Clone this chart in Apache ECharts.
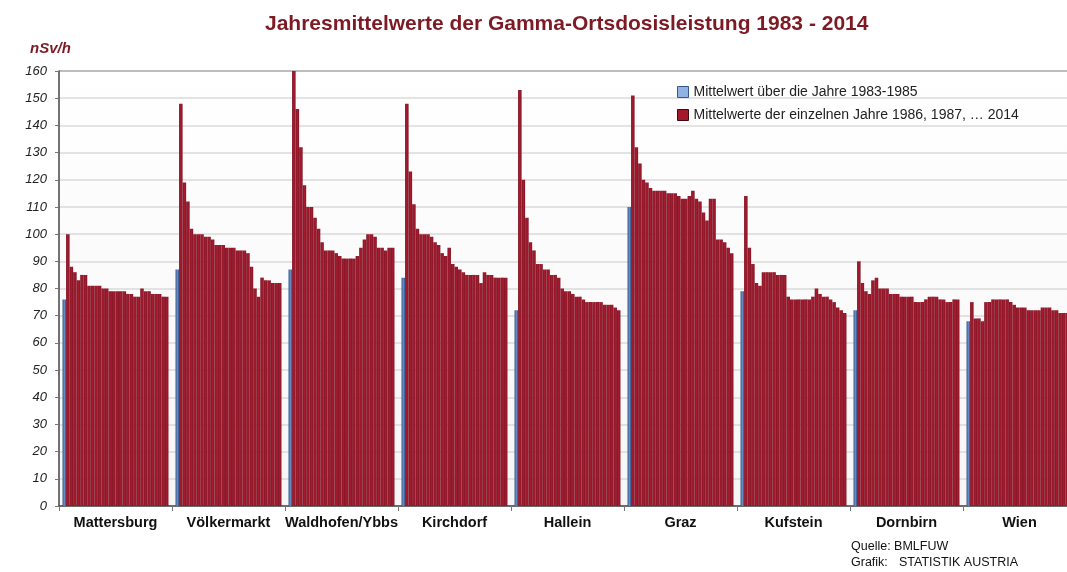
<!DOCTYPE html>
<html>
<head>
<meta charset="utf-8">
<script src="https://cdn.jsdelivr.net/npm/echarts@6/dist/echarts.min.js"></script>
<style>
  html, body { margin: 0; padding: 0; background: #fff; }
  #chart { width: 1067px; height: 572px; }
</style>
</head>
<body>
<div id="chart"></div>
<script>
// Stationen
var stations = ['Mattersburg', 'Völkermarkt', 'Waldhofen/Ybbs', 'Kirchdorf', 'Hallein', 'Graz', 'Kufstein', 'Dornbirn', 'Wien'];

// Mittelwert 1983-1985 (blau)
var base = [76, 87, 87, 84, 72, 110, 79, 72, 68];

// Jahresmittelwerte 1986 ... 2014 (rot)
var mattersburg = [100, 88, 86, 83, 85, 85, 81, 81, 81, 81, 80, 80, 79, 79, 79, 79, 79, 78, 78, 77, 77, 80, 79, 79, 78, 78, 78, 77, 77];
var voelkermarkt = [148, 119, 112, 102, 100, 100, 100, 99, 99, 98, 96, 96, 96, 95, 95, 95, 94, 94, 94, 93, 88, 80, 77, 84, 83, 83, 82, 82, 82];
var waldhofen = [160, 146, 132, 118, 110, 110, 106, 102, 97, 94, 94, 94, 93, 92, 91, 91, 91, 91, 92, 95, 98, 100, 100, 99, 95, 95, 94, 95, 95];
var kirchdorf = [148, 123, 111, 102, 100, 100, 100, 99, 97, 96, 93, 92, 95, 89, 88, 87, 86, 85, 85, 85, 85, 82, 86, 85, 85, 84, 84, 84, 84];
var hallein = [153, 120, 106, 97, 94, 89, 89, 87, 87, 85, 85, 84, 80, 79, 79, 78, 77, 77, 76, 75, 75, 75, 75, 75, 74, 74, 74, 73, 72];
var graz = [151, 132, 126, 120, 119, 117, 116, 116, 116, 116, 115, 115, 115, 114, 113, 113, 114, 116, 113, 112, 108, 105, 113, 113, 98, 98, 97, 95, 93];
var kufstein = [114, 95, 89, 82, 81, 86, 86, 86, 86, 85, 85, 85, 77, 76, 76, 76, 76, 76, 76, 77, 80, 78, 77, 77, 76, 75, 73, 72, 71];
var dornbirn = [90, 82, 79, 78, 83, 84, 80, 80, 80, 78, 78, 78, 77, 77, 77, 77, 75, 75, 75, 76, 77, 77, 77, 76, 76, 75, 75, 76, 76];
var wien = [75, 69, 69, 68, 75, 75, 76, 76, 76, 76, 76, 75, 74, 73, 73, 73, 72, 72, 72, 72, 73, 73, 73, 72, 72, 71, 71, 71, 70];

var yearly = [mattersburg, voelkermarkt, waldhofen, kirchdorf, hallein, graz, kufstein, dornbirn, wien];
var firstYear = 1986;

var yTicks = [0, 10, 20, 30, 40, 50, 60, 70, 80, 90, 100, 110, 120, 130, 140, 150, 160];

// je Station: Luecke, Blau, 29 Jahre, Luecke
var slots = [], blueData = [], redData = [];
for (var i = 0; i < stations.length; i++) {
    slots.push(stations[i] + ' -');
    blueData.push('-'); redData.push('-');
    slots.push(stations[i] + ' 1983-1985');
    blueData.push(base[i]); redData.push('-');
    for (var j = 0; j < yearly[i].length; j++) {
        slots.push(stations[i] + ' ' + (firstYear + j));
        blueData.push('-'); redData.push(yearly[i][j]);
    }
    slots.push(stations[i] + ' +');
    blueData.push('-'); redData.push('-');
}

var gridColors = yTicks.map(function (v) { return v === 160 ? '#a8a8a8' : '#dadada'; });

var myChart = echarts.init(document.getElementById('chart'));

var option = {
    backgroundColor: '#ffffff',
    animation: false,
    title: {
        text: 'Jahresmittelwerte der Gamma-Ortsdosisleistung 1983 - 2014',
        left: 260,
        top: 9,
        textStyle: {
            fontFamily: 'Liberation Sans',
            fontSize: 21,
            fontWeight: 'bold',
            color: '#7d1a24'
        }
    },
    legend: {
        orient: 'vertical',
        left: 672,
        top: 80,
        icon: 'rect',
        itemWidth: 11,
        itemHeight: 11,
        itemGap: 9,
        textStyle: { fontFamily: 'Liberation Sans', fontSize: 14, color: '#222' },
        data: [
            { name: 'Mittelwert über die Jahre 1983-1985', itemStyle: { color: '#8fb4e3', borderColor: '#35598c', borderWidth: 1 } },
            { name: 'Mittelwerte der einzelnen Jahre 1986, 1987, … 2014', itemStyle: { color: '#a3192c', borderColor: '#3e0a10', borderWidth: 1 } }
        ]
    },
    grid: {
        left: 59,
        right: -9,
        top: 71,
        bottom: 66,
        outerBoundsMode: 'none',
        show: true,
        borderWidth: 0,
        backgroundColor: {
            type: 'linear', x: 0, y: 0, x2: 0, y2: 1,
            colorStops: [{ offset: 0, color: '#ffffff' }, { offset: 1, color: '#f6f6f6' }]
        }
    },
    graphic: [
        { type: 'text', left: 30, top: 41, style: { text: 'nSv/h', font: 'italic bold 15px "Liberation Sans"', fill: '#7d1a24' } },
        { type: 'text', left: 851, top: 540, style: { text: 'Quelle: BMLFUW', font: '12.5px "Liberation Sans"', fill: '#111' } },
        { type: 'text', left: 851, top: 556, style: { text: 'Grafik:', font: '12.5px "Liberation Sans"', fill: '#111' } },
        { type: 'text', left: 899, top: 556, style: { text: 'STATISTIK AUSTRIA', font: '12.5px "Liberation Sans"', fill: '#111' } }
    ],
    xAxis: [{
        type: 'category',
        data: slots,
        show: false,
        boundaryGap: true
    }, {
        type: 'category',
        data: stations,
        position: 'bottom',
        boundaryGap: true,
        axisLine: { show: true, lineStyle: { color: '#444', width: 1.5 } },
        axisTick: { show: true, interval: 0, length: 5, lineStyle: { color: '#777' } },
        axisLabel: {
            interval: 0,
            margin: 9,
            fontFamily: 'Liberation Sans',
            fontSize: 14.5,
            fontWeight: 'bold',
            color: '#111'
        },
        splitLine: { show: false }
    }],
    yAxis: {
        type: 'value',
        min: 0,
        max: 160,
        interval: 10,
        axisLine: { show: true, lineStyle: { color: '#444', width: 1.5 } },
        axisTick: { show: true, length: 4, lineStyle: { color: '#777' } },
        axisLabel: {
            margin: 12,
            fontFamily: 'Liberation Sans',
            fontSize: 13,
            fontStyle: 'italic',
            color: '#222'
        },
        splitLine: { show: true, lineStyle: { color: gridColors, width: 1.5 } }
    },
    series: [{
        name: 'Mittelwert über die Jahre 1983-1985',
        type: 'bar',
        xAxisIndex: 0,
        barCategoryGap: '0%',
        barGap: '-100%',
        itemStyle: {
            color: {
                type: 'linear', x: 0, y: 0, x2: 1, y2: 0,
                colorStops: [{ offset: 0, color: '#2f5185' }, { offset: 0.5, color: '#6a91cb' }, { offset: 1, color: '#2f5185' }]
            }
        },
        data: blueData
    }, {
        name: 'Mittelwerte der einzelnen Jahre 1986, 1987, … 2014',
        type: 'bar',
        xAxisIndex: 0,
        barCategoryGap: '0%',
        barGap: '-100%',
        itemStyle: {
            color: {
                type: 'linear', x: 0, y: 0, x2: 1, y2: 0,
                colorStops: [{ offset: 0, color: '#7e1626' }, { offset: 0.5, color: '#a81b2f' }, { offset: 1, color: '#7e1626' }]
            }
        },
        data: redData
    }]
};

myChart.setOption(option);
</script>
</body>
</html>
